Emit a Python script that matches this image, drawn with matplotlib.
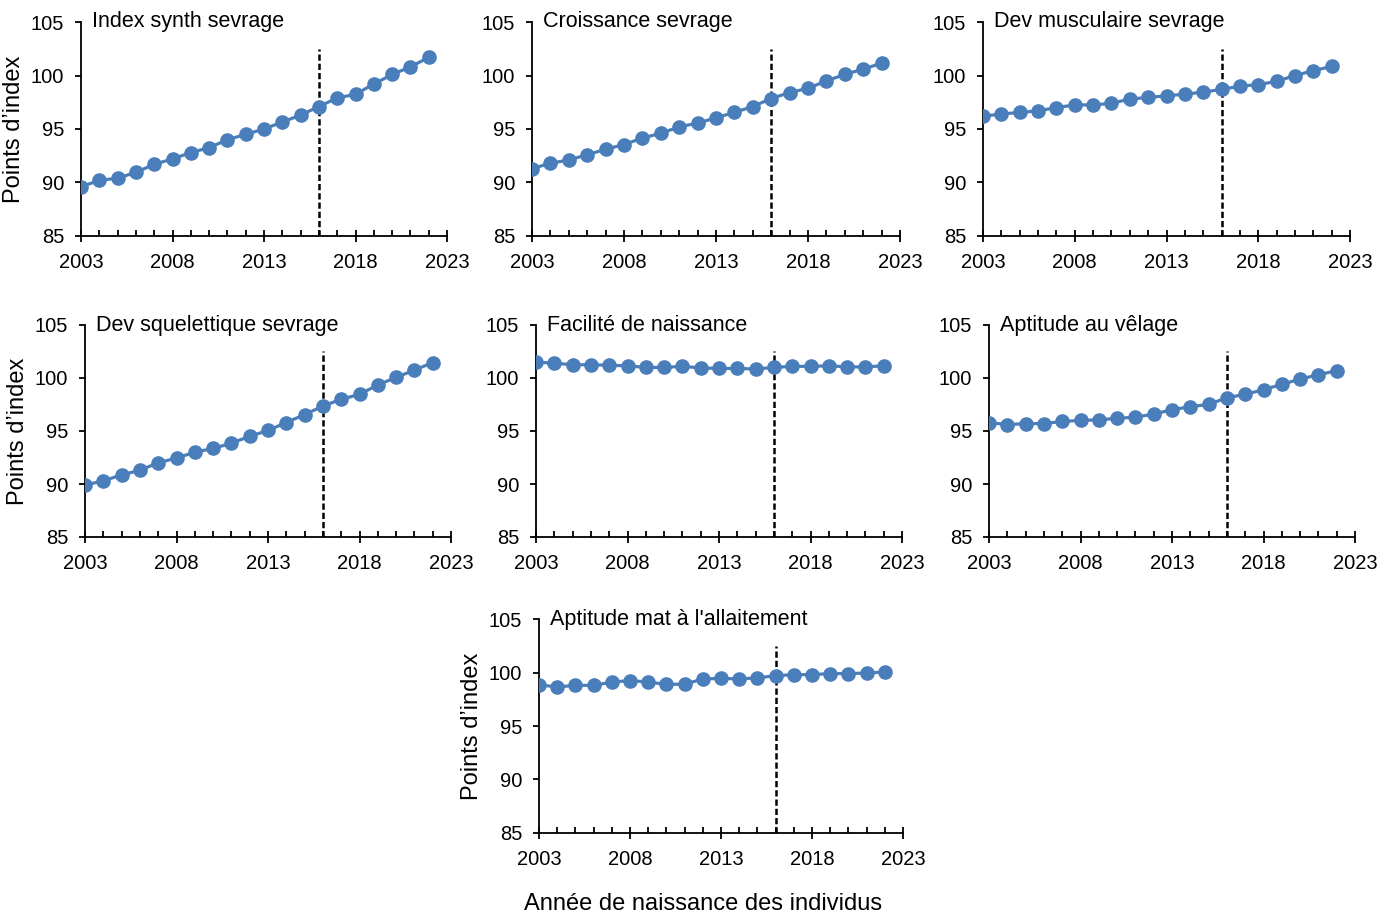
import numpy as np
import matplotlib.pyplot as plt
from matplotlib.ticker import MultipleLocator

plt.rcParams['font.family'] = ['Liberation Sans', 'DejaVu Sans']

years = np.arange(2003, 2023)

titles = [
    "Index synth sevrage",
    "Croissance sevrage",
    "Dev musculaire sevrage",
    "Dev squelettique sevrage",
    "Facilité de naissance",
    "Aptitude au vêlage",
    "Aptitude mat à l'allaitement",
]

index_synth = [89.6, 90.2, 90.4, 90.95, 91.7, 92.2, 92.8, 93.25, 94.0, 94.5,
               95.0, 95.65, 96.3, 97.1, 97.9, 98.25, 99.2, 100.1, 100.8, 101.7]
croissance = [91.3, 91.8, 92.1, 92.6, 93.1, 93.55, 94.15, 94.6, 95.2, 95.55,
              96.05, 96.55, 97.1, 97.85, 98.4, 98.8, 99.5, 100.1, 100.6, 101.15]
dev_musc = [96.2, 96.4, 96.55, 96.7, 97.0, 97.25, 97.25, 97.4, 97.8, 97.95,
            98.1, 98.25, 98.45, 98.7, 99.0, 99.15, 99.45, 100.0, 100.45, 100.85]
dev_squel = [89.9, 90.3, 90.85, 91.3, 92.0, 92.45, 93.0, 93.35, 93.85, 94.5,
             95.05, 95.8, 96.55, 97.35, 98.0, 98.45, 99.35, 100.05, 100.75, 101.45]
fac_naiss = [101.5, 101.4, 101.25, 101.25, 101.2, 101.15, 101.0, 101.0, 101.1, 100.95,
             100.9, 100.9, 100.85, 101.0, 101.1, 101.1, 101.15, 101.05, 101.05, 101.15]
apt_velage = [95.8, 95.6, 95.7, 95.7, 95.9, 96.0, 96.05, 96.2, 96.3, 96.6,
              97.0, 97.3, 97.5, 98.15, 98.45, 98.9, 99.4, 99.9, 100.3, 100.7]
apt_allait = [98.85, 98.65, 98.8, 98.8, 99.1, 99.25, 99.1, 98.9, 98.9, 99.4,
              99.45, 99.4, 99.5, 99.7, 99.8, 99.8, 99.9, 99.9, 99.95, 100.05]

series = [index_synth, croissance, dev_musc, dev_squel, fac_naiss, apt_velage, apt_allait]

cutoff_year = 2016
W, H = 1384, 921

# panel boxes in pixels: left, right, top(105), bottom(85)
boxes = [
    (81, 447, 22, 236), (532, 900, 22, 236), (983, 1350, 22, 236),
    (85, 451, 325, 537), (536, 902, 325, 537), (989, 1355, 325, 537),
    (539, 903, 619, 833),
]

fig = plt.figure(figsize=(W / 100, H / 100), dpi=100)
blue = '#4A7EBB'

for i, (t, s, b) in enumerate(zip(titles, series, boxes)):
    l, r, top, bot = b
    ax = fig.add_axes([l / W, 1 - bot / H, (r - l) / W, (bot - top) / H])
    ax.plot(years, s, color=blue, lw=2.3, marker='o', ms=9.5, zorder=3)
    ax.plot([cutoff_year, cutoff_year], [85, 102.5], color='black', lw=1.8,
            ls=(0, (2.5, 1.2)), zorder=2)
    ax.set_xlim(2003, 2023)
    ax.set_ylim(85, 105)
    ax.set_xticks([2003, 2008, 2013, 2018, 2023])
    ax.xaxis.set_minor_locator(MultipleLocator(1))
    ax.set_yticks([85, 90, 95, 100, 105])
    ax.spines['top'].set_visible(False)
    ax.spines['right'].set_visible(False)
    for sp in ['left', 'bottom']:
        ax.spines[sp].set_linewidth(1.3)
    ax.tick_params(axis='x', which='major', direction='inout', length=9, width=1.3,
                   labelsize=14.5, pad=8)
    ax.tick_params(axis='x', which='minor', direction='in', length=4, width=1.3)
    ax.tick_params(axis='y', direction='out', length=4, width=1.3, labelsize=14.5, pad=8)
    ax.text(0.03, 1.0, t, transform=ax.transAxes, fontsize=15.5, va='center', ha='left')
    ax.set_facecolor('none')
    if i in (0, 3, 6):
        ax.set_ylabel('Points d’index', fontsize=17, labelpad=4)

fig.text(703 / W, 1 - 904 / H, 'Année de naissance des individus', fontsize=17,
         ha='center', va='center')

fig.savefig('out.png', dpi=100)
